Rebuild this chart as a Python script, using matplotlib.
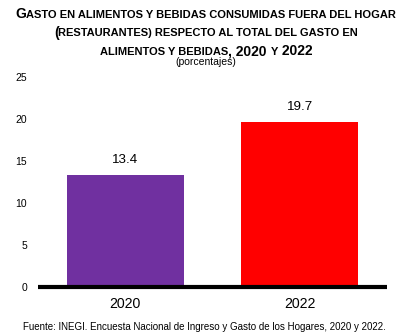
import matplotlib.pyplot as plt

plt.rcParams["font.family"] = ["Liberation Sans", "DejaVu Sans"]

years = ["2020", "2022"]
shares = [13.4, 19.7]
bar_colors = ["#7030A0", "#FF0000"]
yticks = [0, 5, 10, 15, 20, 25]

# title pieces in small caps: (text, is_big)
title_lines = [
    [("G", True), ("ASTO EN ALIMENTOS Y BEBIDAS CONSUMIDAS FUERA DEL HOGAR", False)],
    [("(", True), ("RESTAURANTES) RESPECTO AL TOTAL DEL GASTO EN", False)],
    [("ALIMENTOS Y BEBIDAS", False), (", 2020 ", True), ("Y", False), (" 2022", True)],
]
subtitle = "(porcentajes)"
source = "Fuente: INEGI. Encuesta Nacional de Ingreso y Gasto de los Hogares, 2020 y 2022."

W, H = 412, 336
fig = plt.figure(figsize=(W / 100, H / 100), dpi=100)
ax = fig.add_axes([38 / W, 1 - 287 / H, (387 - 38) / W, (287 - 77.5) / H])

x = range(len(years))
ax.bar(x, shares, width=0.668, color=bar_colors)
for xi, v in zip(x, shares):
    ax.annotate(f"{v:.1f}", (xi, v), xytext=(0, 6.5), textcoords="offset points",
                ha="center", va="bottom", fontsize=9.6)

ax.set_xlim(-0.5, 1.5)
ax.set_ylim(0, 25)
ax.set_yticks(yticks)
ax.set_xticks(list(x))
ax.set_xticklabels(years, fontsize=10.2)
ax.tick_params(axis="y", length=0, labelsize=7.5, pad=8)
ax.tick_params(axis="x", length=0, pad=7.5)
for s in ["top", "right", "left"]:
    ax.spines[s].set_visible(False)
ax.spines["bottom"].set_linewidth(3)
ax.spines["bottom"].set_capstyle("butt")

# small-caps title built from separately sized pieces
renderer = fig.canvas.get_renderer()
big, small = 10, 8.05
baselines = [18, 36.5, 55]
for line, base in zip(title_lines, baselines):
    texts = []
    for s, is_big in line:
        t = fig.text(0, 1 - base / H, s, fontsize=big if is_big else small,
                     fontweight="bold", va="baseline", ha="left")
        texts.append(t)
    widths = [t.get_window_extent(renderer).width for t in texts]
    xpos = (W - sum(widths)) / 2
    for t, w in zip(texts, widths):
        t.set_x(xpos / W)
        xpos += w

fig.text(0.5, 1 - 65 / H, subtitle, ha="center", va="baseline", fontsize=7.5)
fig.text(23 / W, 1 - 330 / H, source, ha="left", va="baseline", fontsize=7.0)

fig.savefig("out.png", dpi=100)
